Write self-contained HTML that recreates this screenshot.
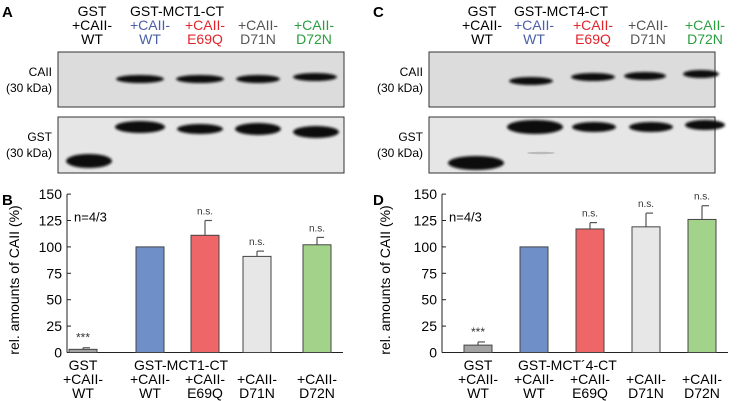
<!DOCTYPE html>
<html><head><meta charset="utf-8"><style>
body{margin:0;background:#fff;}
svg{display:block;font-family:"Liberation Sans",Arial,sans-serif;}
</style></head><body>
<svg id="fig" width="742" height="401" viewBox="0 0 742 401">
<defs>
<filter id="blur" x="-20%" y="-50%" width="140%" height="200%"><feGaussianBlur stdDeviation="1.2"/></filter>
</defs>
<g id="blots"></g>
<g id="charts"></g>
</svg>
<script>
const NS='http://www.w3.org/2000/svg';
// ---- chart data ----
const categories=['GST +CAII-WT','+CAII-WT','+CAII-E69Q','+CAII-D71N','+CAII-D72N'];
const valuesB=[3,100,111,91,102];
const errorsB=[1.5,0,14,5,7];
const valuesD=[7,100,117,119,126];
const errorsD=[3,0,6,13,13];
const sigB=['***','','n.s.','n.s.','n.s.'];
const sigD=['***','','n.s.','n.s.','n.s.'];
const yTicks=[0,25,50,75,100,125,150];
const barColors=['#a3a3a3','#6f8fc9','#ef6668','#e6e7e6','#a3d38a'];
const headColors=['#222','#4a5fa8','#e0242b','#555','#2a9d3f'];

function el(p,tag,attrs,text){const e=document.createElementNS(NS,tag);for(const k in attrs)e.setAttribute(k,attrs[k]);if(text!==undefined)e.textContent=text;p.appendChild(e);return e;}

const blots=document.getElementById('blots');
const charts=document.getElementById('charts');

function blotPanel(ox,letter,construct,caiiBands,gstBands,gstLane,centers){
  const g=el(blots,'g',{});
  
  
  const L=el(g,'text',{x:ox+2,y:17,'font-size':15,'font-weight':'bold'},letter);
  
  el(g,'text',{x:centers[0],y:16,'font-size':14,'text-anchor':'middle'},'GST');
  el(g,'text',{x:centers[0],y:30,'font-size':14,'text-anchor':'middle'},'+CAII-');
  el(g,'text',{x:centers[0],y:44,'font-size':14,'text-anchor':'middle'},'WT');
  el(g,'text',{x:centers[1]-20,y:16,'font-size':14},construct);
  const l2=['+CAII-','+CAII-','+CAII-','+CAII-'],l3=['WT','E69Q','D71N','D72N'];
  for(let i=0;i<4;i++){
    el(g,'text',{x:centers[i+1],y:30,'font-size':14,'text-anchor':'middle',fill:headColors[i+1]},l2[i]);
    el(g,'text',{x:centers[i+1],y:44,'font-size':14,'text-anchor':'middle',fill:headColors[i+1]},l3[i]);
  }
  const bx=ox+58,bw=286;
  el(g,'text',{x:bx-6,y:76,'font-size':12,'text-anchor':'end'},'CAII');
  el(g,'text',{x:bx-6,y:92,'font-size':12,'text-anchor':'end'},'(30 kDa)');
  el(g,'text',{x:bx-6,y:141,'font-size':12,'text-anchor':'end'},'GST');
  el(g,'text',{x:bx-6,y:157,'font-size':12,'text-anchor':'end'},'(30 kDa)');
  const b1=el(g,'rect',{x:bx,y:52,width:bw,height:55,fill:'#dcdcdc',stroke:'#333','stroke-width':1});
  
  const b2=el(g,'rect',{x:bx,y:117,width:bw,height:56,fill:'#e6e6e6',stroke:'#333','stroke-width':1});
  
  caiiBands.forEach(b=>el(g,'ellipse',{cx:b[0],cy:b[1],rx:b[2],ry:4,fill:'#111',filter:'url(#blur)'}));
  gstBands.forEach(b=>el(g,'ellipse',{cx:b[0],cy:b[1],rx:b[2],ry:b[3],fill:'#0c0c0c',filter:'url(#blur)'}));
  el(g,'ellipse',{cx:gstLane[0],cy:gstLane[1],rx:gstLane[2],ry:7,fill:'#0c0c0c',filter:'url(#blur)'});
}
blotPanel(0,'A','GST-MCT1-CT',[[140,79,24],[200,79,24],[258,79,22],[315,77,22]],[[140,127,25,6],[200,129,23,5],[258,129,23,6],[316,132,23,6]],[89,161,23],[92,150,205,258,314]);
blotPanel(371,'C','GST-MCT4-CT',[[531,81,22],[593,77,22],[645,76,21],[701,74,18]],[[535,127,28,7],[594,127,22,5],[651,127,22,5],[705,125,20,5]],[476,163,28],[482,534,593,648,705]);
el(blots,'ellipse',{cx:541,cy:153,rx:14,ry:1.2,fill:'#bbb'});

function barChart(ox,letter,values,errors,sig,axisX,axisEnd,centers,construct){
  const g=el(charts,'g',{});
  
  
  const y0=352.5,pxPer=26.4/25;
  const yS=v=>y0-v*pxPer;
  const L=el(g,'text',{x:ox+2,y:205,'font-size':15,'font-weight':'bold'},letter);
  
  const ya=el(g,'line',{x1:axisX,y1:yS(150),x2:axisX,y2:y0,stroke:'#222','stroke-width':1});
  
  yTicks.forEach(t=>{
    el(g,'line',{x1:axisX,y1:yS(t),x2:axisX+4,y2:yS(t),stroke:'#222','stroke-width':1});
    const tl=el(g,'text',{x:axisX-5,y:yS(t)+5,'font-size':14,'text-anchor':'end'},String(t));
    
  });
  const xa=el(g,'line',{x1:axisX,y1:y0,x2:axisEnd,y2:y0,stroke:'#222','stroke-width':1});
  
  const yt=el(g,'text',{x:0,y:0,'font-size':14,'text-anchor':'middle',transform:`translate(${ox+19},280) rotate(-90)`},'rel. amounts of CAII (%)');
  
  el(g,'text',{x:axisX+7,y:yS(129)+5,'font-size':13},'n=4/3');
  const bw=28;
  values.forEach((v,i)=>{
    const cx=centers[i];
    if(errors[i]>0){
      el(g,'line',{x1:cx,y1:yS(v),x2:cx,y2:yS(v+errors[i]),stroke:'#555','stroke-width':1.2});
      el(g,'line',{x1:cx,y1:yS(v+errors[i]),x2:cx+7,y2:yS(v+errors[i]),stroke:'#555','stroke-width':1.2});
    }
    const r=el(g,'rect',{x:cx-bw/2,y:yS(v),width:bw,height:y0-yS(v),fill:barColors[i],stroke:'#444','stroke-width':1});
    
    
    if(sig[i]){
      const s=el(g,'text',{x:cx,y:yS(v+errors[i])-6,'font-size':sig[i]==='***'?12:10,'text-anchor':'middle',fill:'#333'},sig[i]);
      
    }
    const sub=i===0?['+CAII-','WT']:categories[i].replace('+CAII-','+CAII-|').split('|');
    el(g,'text',{x:cx,y:384,'font-size':14,'text-anchor':'middle'},sub[0]);
    el(g,'text',{x:cx,y:398,'font-size':14,'text-anchor':'middle'},sub[1]);
  });
  el(g,'text',{x:centers[0],y:370,'font-size':14,'text-anchor':'middle'},'GST');
  el(g,'text',{x:centers[1]-16,y:370,'font-size':14},construct);
}
barChart(0,'B',valuesB,errorsB,sigB,67,343,[83,150,205,257,317],'GST-MCT1-CT');
barChart(371,'D',valuesD,errorsD,sigD,442,728,[478,534,590,646,702],'GST-MCT\u00B44-CT');
</script>
</body></html>
